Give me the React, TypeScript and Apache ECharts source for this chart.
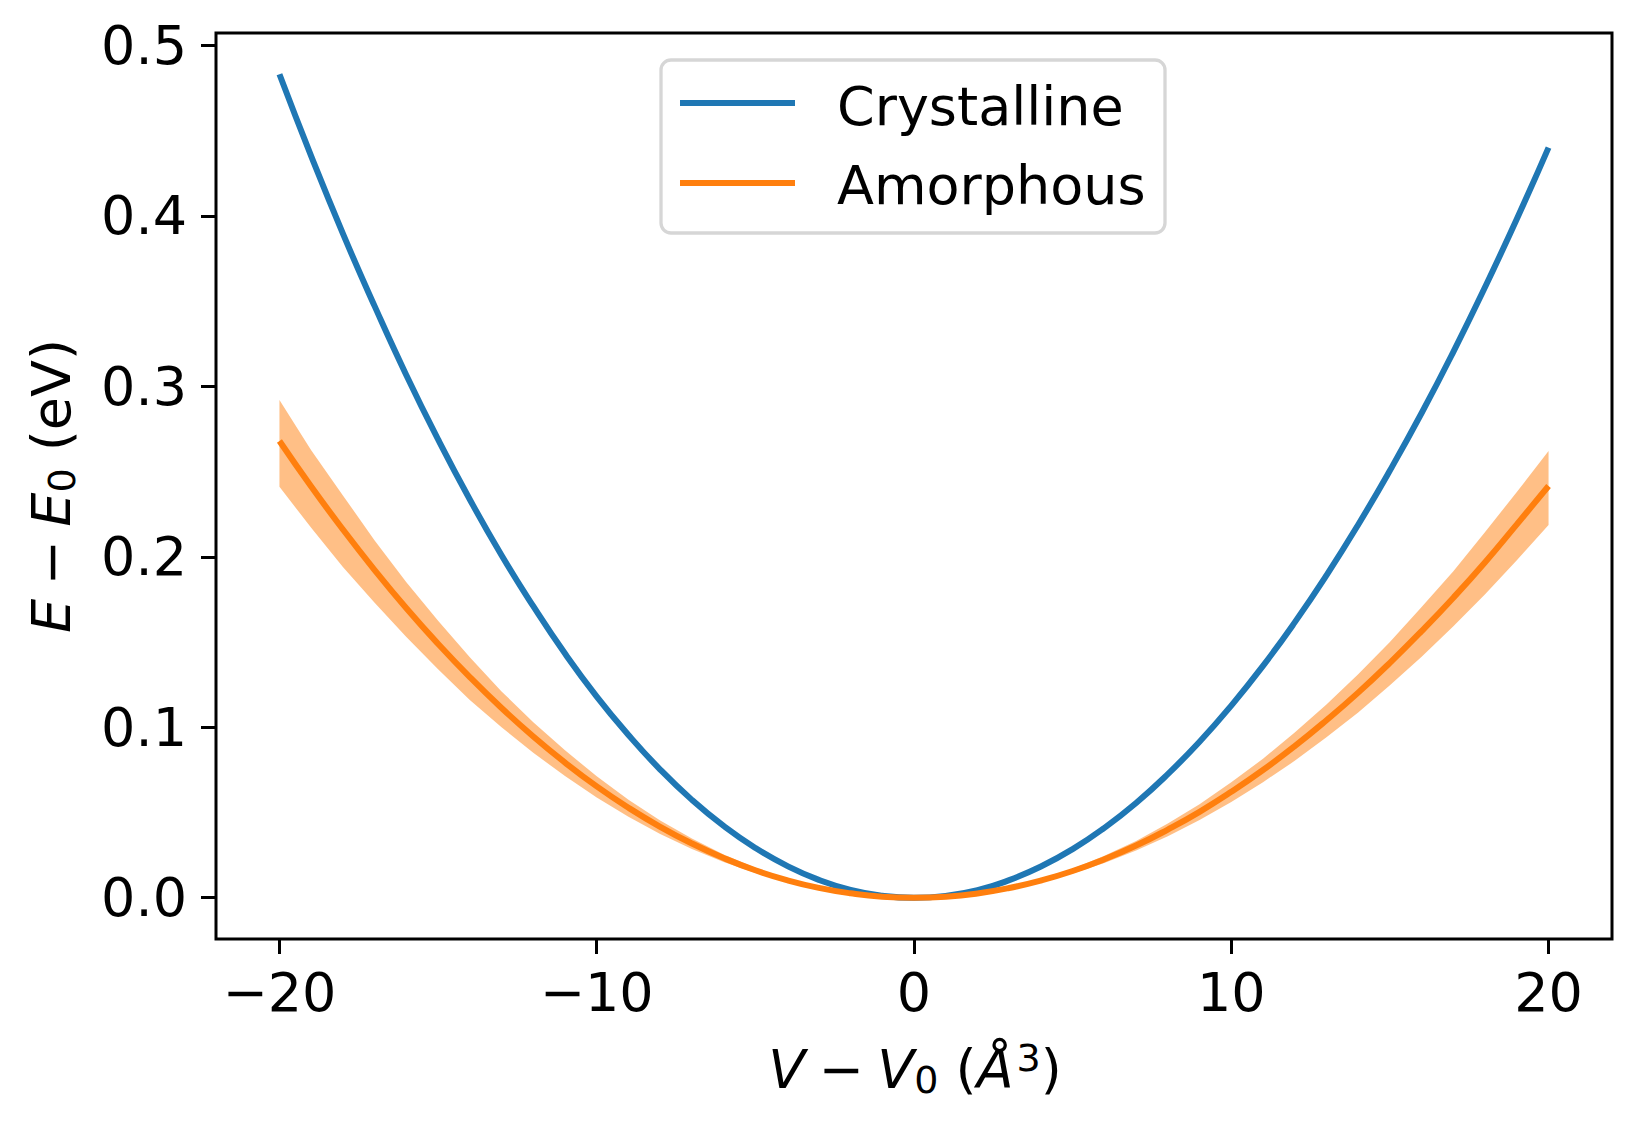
import React, { useEffect, useRef } from "react";
import * as echarts from "echarts";

// ---- data ----
const volumes = [
  -20, -19, -18, -17, -16, -15, -14, -13, -12, -11, -10, -9, -8, -7, -6, -5, -4, -3, -2, -1, 0,
  1, 2, 3, 4, 5, 6, 7, 8, 9, 10, 11, 12, 13, 14, 15, 16, 17, 18, 19, 20,
];
const crystalline = [
  0.483, 0.435, 0.3895, 0.347, 0.3065, 0.2688, 0.2336, 0.2009, 0.171, 0.1432, 0.118, 0.0955, 0.0752, 0.0574, 0.0421, 0.0292, 0.0187, 0.0105, 0.0046, 0.0012, 0,
  0.0011, 0.0044, 0.0103, 0.0183, 0.0285, 0.041, 0.0556, 0.0725, 0.0915, 0.1127, 0.136, 0.1615, 0.1891, 0.2188, 0.2506, 0.2843, 0.3202, 0.3582, 0.3981, 0.44,
];
const amorphous = [
  0.2679, 0.2412, 0.216, 0.1922, 0.1698, 0.1489, 0.1294, 0.1113, 0.0946, 0.0793, 0.0653, 0.0528, 0.0416, 0.0318, 0.0233, 0.0161, 0.0103, 0.0058, 0.0026, 0.0006, 0,
  0.0006, 0.0025, 0.0057, 0.0101, 0.0157, 0.0226, 0.0306, 0.04, 0.0504, 0.0621, 0.0749, 0.0889, 0.1041, 0.1203, 0.1378, 0.1564, 0.176, 0.1968, 0.219, 0.2415,
];
const amorphousUpper = [
  0.292, 0.2625, 0.236, 0.2095, 0.185, 0.1625, 0.141, 0.121, 0.103, 0.0865, 0.0712, 0.0575, 0.0453, 0.0347, 0.0254, 0.0176, 0.0112, 0.0063, 0.0028, 0.0007, 0,
  0.0007, 0.0027, 0.0062, 0.011, 0.017, 0.0246, 0.0333, 0.0436, 0.0548, 0.0677, 0.0815, 0.0969, 0.1133, 0.1311, 0.15, 0.1705, 0.1915, 0.2145, 0.238, 0.262,
];
const amorphousLower = [
  0.241, 0.217, 0.194, 0.173, 0.153, 0.134, 0.116, 0.1, 0.085, 0.0714, 0.0588, 0.0475, 0.0374, 0.0286, 0.021, 0.0145, 0.0093, 0.0052, 0.0023, 0.0005, 0,
  0.0005, 0.0023, 0.0052, 0.0091, 0.0142, 0.0204, 0.0277, 0.036, 0.0456, 0.0561, 0.0678, 0.0803, 0.0942, 0.1087, 0.1247, 0.1413, 0.1593, 0.178, 0.198, 0.2186,
];
const xTicks = [-20, -10, 0, 10, 20];
const yTicks = [0, 0.1, 0.2, 0.3, 0.4, 0.5];
const seriesNames = ["Crystalline", "Amorphous"];

const BLUE = "#1f77b4";
const ORANGE = "#ff7f0e";
const FONT = "DejaVu Sans";
const SP = "\u2005";

const pairs = (ys: number[]) => volumes.map((v, i) => [v, ys[i]]);

export default function App() {
  const ref = useRef<HTMLDivElement>(null);

  useEffect(() => {
    if (!ref.current) return;
    const chart = echarts.init(ref.current, undefined, { renderer: "svg" });

    const bandData = volumes.map((v, i) => [v, amorphousLower[i], amorphousUpper[i]]);

    const rich = {
      i: { fontFamily: FONT, fontSize: 54, fontStyle: "italic", lineHeight: 60, verticalAlign: "middle", fill: "#000" },
      n: { fontFamily: FONT, fontSize: 54, lineHeight: 60, verticalAlign: "middle", fill: "#000" },
      sub: { fontFamily: FONT, fontSize: 38, lineHeight: 31, verticalAlign: "bottom", fill: "#000" },
      sup: { fontFamily: FONT, fontSize: 38, lineHeight: 29, verticalAlign: "top", fill: "#000", padding: [0, 0, 0, 3] },
    };

    const option: any = {
      animation: false,
      backgroundColor: "#ffffff",
      textStyle: { fontFamily: FONT },
      grid: {
        left: 216,
        right: 29,
        top: 33,
        bottom: 191,
        show: true,
        borderColor: "#000",
        borderWidth: 3,
        backgroundColor: "transparent",
        containLabel: false,
      },
      xAxis: {
        type: "value",
        min: -22,
        max: 22,
        axisLine: { show: false, onZero: false },
        splitLine: { show: false },
        axisTick: { show: true, inside: false, customValues: xTicks, length: 15, lineStyle: { color: "#000", width: 3 } },
        axisLabel: {
          customValues: xTicks,
          margin: 26,
          fontSize: 54,
          fontFamily: FONT,
          color: "#000",
          formatter: (v: number) => (v < 0 ? "\u2212" + Math.abs(v) : String(v)),
        },
      },
      yAxis: {
        type: "value",
        min: -0.0242,
        max: 0.5072,
        axisLine: { show: false, onZero: false },
        splitLine: { show: false },
        axisTick: { show: true, inside: false, customValues: yTicks, length: 15, lineStyle: { color: "#000", width: 3 } },
        axisLabel: {
          customValues: yTicks,
          margin: 29,
          fontSize: 54,
          fontFamily: FONT,
          color: "#000",
          formatter: (v: number) => v.toFixed(1),
        },
      },
      series: [
        {
          name: seriesNames[0],
          type: "line",
          data: pairs(crystalline),
          smooth: true,
          symbol: "none",
          lineStyle: { color: BLUE, width: 6 },
          z: 2,
        },
        {
          name: "Amorphous band",
          type: "custom",
          data: bandData,
          encode: { x: 0, y: [1, 2] },
          silent: true,
          z: 3,
          renderItem: (params: any, api: any) => {
            if (params.dataIndex !== 0) return null;
            const pts: number[][] = [];
            for (let i = 0; i < volumes.length; i++) pts.push(api.coord([volumes[i], amorphousUpper[i]]));
            for (let i = volumes.length - 1; i >= 0; i--) pts.push(api.coord([volumes[i], amorphousLower[i]]));
            return {
              type: "polygon",
              shape: { points: pts },
              style: { fill: "rgba(255,127,14,0.5)", stroke: "none" },
            };
          },
        },
        {
          name: seriesNames[1],
          type: "line",
          data: pairs(amorphous),
          smooth: true,
          symbol: "none",
          lineStyle: { color: ORANGE, width: 6 },
          z: 4,
        },
      ],
      graphic: [
        // legend
        {
          type: "rect",
          shape: { x: 661, y: 60, width: 504, height: 173, r: 10 },
          style: { fill: "rgba(255,255,255,0.8)", stroke: "#d6d6d6", lineWidth: 3.3 },
          z: 10,
        },
        {
          type: "line",
          shape: { x1: 680, y1: 103, x2: 795, y2: 103 },
          style: { stroke: BLUE, lineWidth: 6 },
          z: 11,
        },
        {
          type: "line",
          shape: { x1: 680, y1: 183, x2: 795, y2: 183 },
          style: { stroke: ORANGE, lineWidth: 6 },
          z: 11,
        },
        {
          type: "text",
          x: 837,
          y: 106,
          style: { text: seriesNames[0], fontFamily: FONT, fontSize: 54, fill: "#000", textAlign: "left", textVerticalAlign: "middle" },
          z: 11,
        },
        {
          type: "text",
          x: 837,
          y: 185,
          style: { text: seriesNames[1], fontFamily: FONT, fontSize: 54, fill: "#000", textAlign: "left", textVerticalAlign: "middle" },
          z: 11,
        },
        // x axis title
        {
          type: "text",
          x: 915,
          y: 1039,
          style: {
            text: `{i|V}{n|${SP}\u2212${SP}}{i|V}{sub|0}{n| (}{i|Å}{sup|3}{n|)}`,
            rich,
            textAlign: "center",
            textVerticalAlign: "top",
          },
          z: 11,
        },
        // y axis title
        {
          type: "text",
          x: 21,
          y: 486,
          rotation: Math.PI / 2,
          style: {
            text: `{i|E}{n|${SP}\u2212${SP}}{i|E}{sub|0}{n| (eV)}`,
            rich,
            textAlign: "center",
            textVerticalAlign: "top",
          },
          z: 11,
        },
      ],
    };

    chart.setOption(option);
    return () => chart.dispose();
  }, []);

  return (
    <div
      ref={ref}
      style={{ position: "absolute", left: 0, top: 0, width: 1641, height: 1130, background: "#fff" }}
    />
  );
}
